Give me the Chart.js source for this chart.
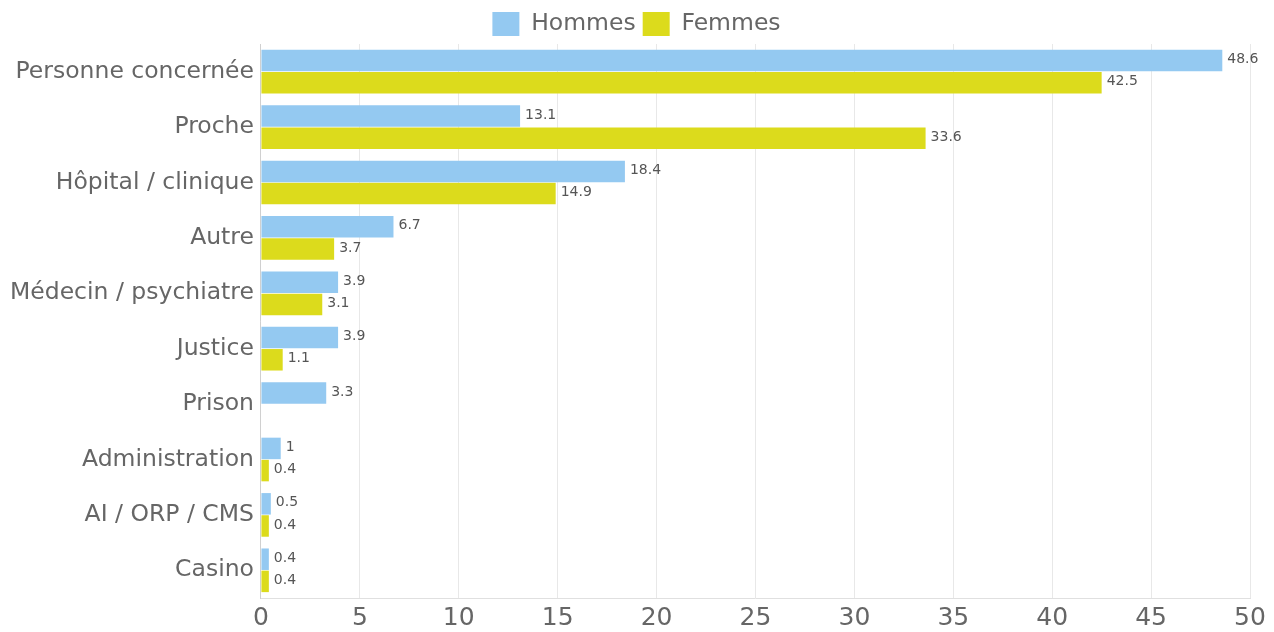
<!DOCTYPE html>
<html>
<head>
<meta charset="utf-8">
<script src="https://cdn.jsdelivr.net/npm/chart.js@4/dist/chart.umd.min.js"></script>
<style>
  html, body { margin: 0; padding: 0; background: #fff; }
  #wrap { width: 1274px; height: 632px; }
</style>
</head>
<body>
<div id="wrap"><canvas id="chart"></canvas></div>
<script>
const categories = [
  'Personne concernée', 'Proche', 'Hôpital / clinique', 'Autre',
  'Médecin / psychiatre', 'Justice', 'Prison', 'Administration',
  'AI / ORP / CMS', 'Casino',
];
const hommes = [48.6, 13.1, 18.4, 6.7, 3.9, 3.9, 3.3, 1, 0.5, 0.4];
const femmes = [42.5, 33.6, 14.9, 3.7, 3.1, 1.1, null, 0.4, 0.4, 0.4];
const xTicks = [0, 5, 10, 15, 20, 25, 30, 35, 40, 45, 50];

const INK = '#666666';
const FONT = "'DejaVu Sans', sans-serif";

// draws the value just past the end of each bar
const valueLabels = {
  id: 'valueLabels',
  afterDatasetsDraw(chart) {
    const ctx = chart.ctx;
    ctx.save();
    ctx.font = '14px ' + FONT;
    ctx.fillStyle = '#555555';
    ctx.textAlign = 'left';
    ctx.textBaseline = 'middle';
    chart.data.datasets.forEach((ds, i) => {
      chart.getDatasetMeta(i).data.forEach((bar, j) => {
        const v = ds.data[j];
        if (v == null) return;
        ctx.fillText(String(v), bar.x + 5, bar.y - 1);
      });
    });
    ctx.restore();
  },
};

// nudge the legend a little right / down, like the original
const legendNudge = {
  id: 'legendNudge',
  afterLayout(chart) {
    const lg = chart.legend;
    if (!lg) return;
    lg.left += 10; lg.right += 10;
    lg.top += 2; lg.bottom += 2;
  },
};

new Chart(document.getElementById('chart'), {
  type: 'bar',
  data: {
    labels: categories,
    datasets: [
      { label: 'Hommes', data: hommes, backgroundColor: '#94c9f1' },
      { label: 'Femmes', data: femmes, backgroundColor: '#dcdb1c' },
    ],
  },
  options: {
    indexAxis: 'y',
    responsive: true,
    maintainAspectRatio: false,
    animation: false,
    layout: { padding: { left: 3, right: 24, top: 3, bottom: -7 } },
    datasets: { bar: { categoryPercentage: 0.8, barPercentage: 0.97 } },
    plugins: {
      legend: {
        position: 'top',
        labels: {
          color: INK,
          boxWidth: 27,
          boxHeight: 24,
          padding: 7,
          font: { family: FONT, size: 23.5 },
        },
      },
      tooltip: { enabled: false },
    },
    scales: {
      x: {
        min: 0,
        max: 50,
        afterBuildTicks: (axis) => { axis.ticks = xTicks.map((v) => ({ value: v })); },
        ticks: { color: INK, font: { family: FONT, size: 25, lineHeight: 1 }, padding: 8 },
        grid: { color: '#e8e8e8', drawTicks: false },
        border: { color: '#e0e0e0' },
      },
      y: {
        ticks: { color: INK, font: { family: FONT, size: 23.5 }, padding: 7 },
        grid: { display: false, drawTicks: false },
        border: { color: '#d0d0d0' },
      },
    },
  },
  plugins: [valueLabels, legendNudge],
});
</script>
</body>
</html>
